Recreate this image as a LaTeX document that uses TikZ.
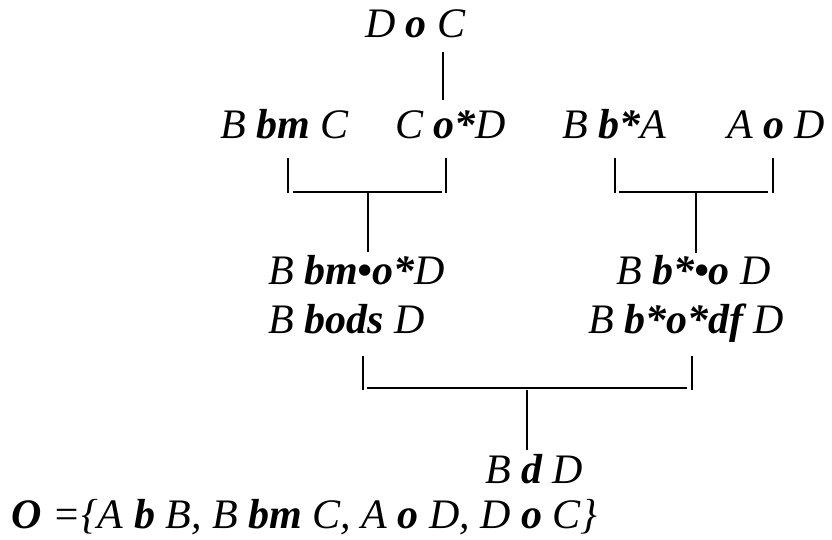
\documentclass[tikz,border=0pt]{standalone}
\usepackage{fontspec}
\setmainfont{Liberation Serif}[
  UprightFont=*,
  ItalicFont=* Italic,
  BoldFont=* Bold,
  BoldItalicFont=* Bold Italic]
\begin{document}
\begin{tikzpicture}[x=1pt,y=-1pt,
  lbl/.style={anchor=base west,inner sep=0pt,outer sep=0pt,font=\fontsize{42pt}{46pt}\selectfont\itshape},
  bar/.style={line width=1.6pt},
  stem/.style={line width=1.6pt}]
\useasboundingbox (0,0) rectangle (832,539);
% texts
\node[lbl] (doc) at (365,37) {D \textbf{o} C};
\node[lbl] (bbmc) at (220,138) {B \textbf{bm} C};
\node[lbl] (cod) at (395,138) {C \textbf{o*}D};
\node[lbl] (bba) at (562,138) {B \textbf{b*}A};
\node[lbl] (aod) at (727,138) {A \textbf{o} D};
\node[lbl] (bbmod) at (268,284) {B \textbf{bm•o*}D};
\node[lbl] (bbods) at (268,333) {B \textbf{bods} D};
\node[lbl] (bbod) at (616,284) {B \textbf{b*•o} D};
\node[lbl] (bbodf) at (588,333) {B \textbf{b*o*df} D};
\node[lbl] (bdd) at (485,483) {B \textbf{d} D};
\node[lbl] (oset) at (12,528) {\textbf{O} =\{A \textbf{b} B, B \textbf{bm} C, A \textbf{o} D, D \textbf{o} C\}};
% coordinates
\coordinate (t1) at (443,52); \coordinate (t2) at (443,100);
\coordinate (la) at (288,158); \coordinate (lb) at (288,193);
\coordinate (lc) at (446,158); \coordinate (ld) at (446,193);
\coordinate (lh1) at (293,192); \coordinate (lh2) at (442,192);
\coordinate (ls1) at (368,193); \coordinate (ls2) at (368,252);
\coordinate (ra) at (615,158); \coordinate (rb) at (615,193);
\coordinate (rc) at (773,158); \coordinate (rd) at (773,193);
\coordinate (rh1) at (619,192); \coordinate (rh2) at (768,192);
\coordinate (rs1) at (696,193); \coordinate (rs2) at (696,253);
\coordinate (ba) at (363,356); \coordinate (bb) at (363,390);
\coordinate (bc) at (692,356); \coordinate (bd) at (692,390);
\coordinate (bh1) at (367,388); \coordinate (bh2) at (687,388);
\coordinate (bs1) at (527,390); \coordinate (bs2) at (527,450);
% connectors
\draw[stem] (t1) -- (t2);
\draw[bar] (la) -- (lb); \draw[bar] (lc) -- (ld); \draw[bar] (lh1) -- (lh2);
\draw[stem] (ls1) -- (ls2);
\draw[bar] (ra) -- (rb); \draw[bar] (rc) -- (rd); \draw[bar] (rh1) -- (rh2);
\draw[stem] (rs1) -- (rs2);
\draw[bar] (ba) -- (bb); \draw[bar] (bc) -- (bd); \draw[bar] (bh1) -- (bh2);
\draw[stem] (bs1) -- (bs2);
\end{tikzpicture}
\end{document}
